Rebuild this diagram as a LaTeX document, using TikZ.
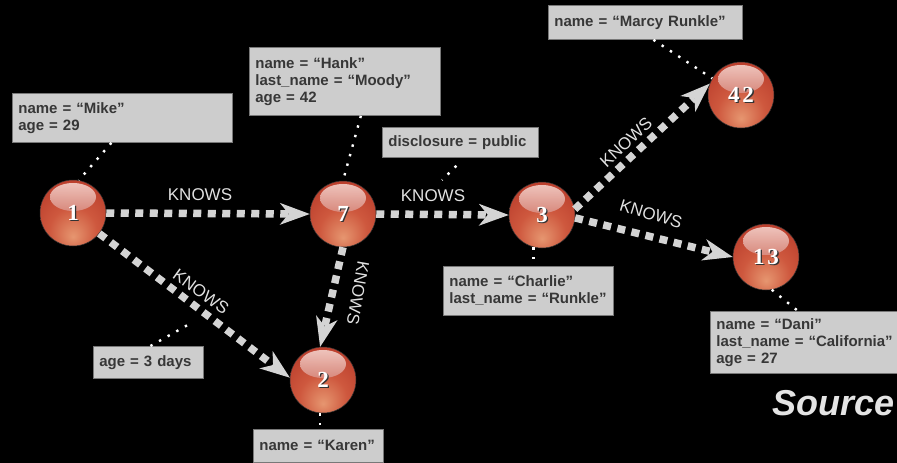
\documentclass[tikz,border=0pt]{standalone}
\usepackage{fontspec}
\setmainfont{Liberation Sans}
\newfontfamily\ballserif{Liberation Serif}
\usetikzlibrary{arrows.meta,calc}

\definecolor{boxfill}{RGB}{205,205,205}
\definecolor{boxdraw}{RGB}{120,120,120}
\definecolor{boxtext}{RGB}{55,55,55}
\definecolor{edgecol}{RGB}{212,212,212}
\definecolor{labelcol}{RGB}{225,225,225}
\definecolor{srccol}{RGB}{228,228,228}
\definecolor{ballA}{RGB}{230,150,112}
\definecolor{ballB}{RGB}{206,88,62}
\definecolor{ballC}{RGB}{182,56,40}
\definecolor{ballD}{RGB}{138,30,22}
\definecolor{gloss}{RGB}{250,225,220}

% glossy sphere: light glow below the centre, dark rim
\pgfdeclareradialshading{ballshade}{\pgfpoint{0bp}{-18bp}}{%
  color(0bp)=(ballA); color(18bp)=(ballB); color(40bp)=(ballC);
  color(62bp)=(ballD); color(80bp)=(ballD)}

\newcommand{\boxfont}{\bfseries\fontsize{15pt}{17pt}\selectfont}
\newcommand{\lblfont}{\fontsize{17pt}{17pt}\selectfont}
\newcommand{\numfont}{\ballserif\bfseries\fontsize{23pt}{23pt}\selectfont}

\begin{document}
\begin{tikzpicture}[x=1pt,y=1pt,
  ball/.style={circle, minimum size=66pt, inner sep=0pt, draw=black!80,
    line width=0.5pt, shading=ballshade, text=white, font=\numfont,
    path picture={
      \shade[top color=gloss, bottom color=ballC, opacity=0.85]
        ([yshift=16pt]path picture bounding box.center) ellipse (23pt and 14pt);
      \node[text=black!80, font=\numfont]
        at ([xshift=1.3pt,yshift=-1.3pt]path picture bounding box.center) {#1};
    }},
  infobox/.style={draw=boxdraw, fill=boxfill, line width=0.8pt, text=boxtext,
    font=\boxfont, align=left, anchor=north west, inner xsep=6pt, inner ysep=0pt,
    execute at begin node={\hyphenpenalty=10000\hbadness=10000}},
  edge/.style={draw=edgecol, line width=7.5pt, dash pattern=on 8pt off 6.5pt,
    -{Stealth[length=30pt, width=22pt, inset=9pt, line width=0pt, fill=edgecol]}},
  leader/.style={draw=white, line width=2.4pt, dash pattern=on 2.4pt off 7.5pt},
  lbl/.style={text=labelcol, font=\lblfont, inner sep=1pt},
]
\useasboundingbox (0,0) rectangle (897,-463);
\clip (0,0) rectangle (897,-463);
\fill[black] (0,0) rectangle (897,-463);

% property boxes
\node[infobox, text width=208pt, minimum height=49pt] (mike) at (12,-93)
  {name = “Mike”\\age = 29};
\node[infobox, text width=179pt, minimum height=68pt] (hank) at (249,-47)
  {name = “Hank”\\last\_name = “Moody”\\age = 42};
\node[infobox, text width=144pt, minimum height=30pt] (disc) at (382,-127)
  {disclosure = public};
\node[infobox, text width=162pt, inner xsep=4pt, minimum height=49pt] (charlie) at (443,-266)
  {\hspace*{2pt}name = “Charlie”\\\hspace*{2pt}last\_name = “Runkle”};
\node[infobox, text width=182pt, minimum height=34pt] (marcy) at (548,-5)
  {name = “Marcy Runkle”};
\node[infobox, text width=200pt, minimum height=62pt] (dani) at (710,-311)
  {name = “Dani”\\last\_name = “California”\\age = 27};
\node[infobox, text width=98pt, minimum height=32pt] (age) at (93,-346)
  {age = 3 days};
\node[infobox, text width=118pt, minimum height=33pt] (karen) at (253,-429)
  {name = “Karen”};

% graph nodes
\node[ball=1] (n1) at (73,-213) {1};
\node[ball=7] (n7) at (343,-214) {7};
\node[ball=3] (n3) at (542,-215) {3};
\node[ball={4\kern3pt 2}] (n42) at (741,-95) {4\kern3pt 2};
\node[ball={1\kern3pt 3}] (n13) at (766,-257) {1\kern3pt 3};
\node[ball=2] (n2) at (323,-380) {2};

% relationships
\draw[edge] (n1.east) -- (n7.west);
\draw[edge] (n7.east) -- (n3.west);
\draw[edge] (n1.-38) -- (n2.176);
\draw[edge] (n7.south) -- (n2.95);
\draw[edge] (n3.10) -- (n42.160);
\draw[edge] (n3.-5) -- (n13.west);

% relationship labels
\node[lbl] (k17) at (200,-195) {KNOWS};
\node[lbl] (k73) at (433,-196) {KNOWS};
\node[lbl, rotate=-36] (k12) at (201,-292) {KNOWS};
\node[lbl, rotate=-100] (k72) at (358,-293) {KNOWS};
\node[lbl, rotate=43] (k342) at (626,-142) {KNOWS};
\node[lbl, rotate=-17] (k313) at (651,-214) {KNOWS};

% leaders from properties to their owners
\coordinate (disctip) at (442,-180);
\coordinate (agetip) at (193,-322);
\draw[leader] ([xshift=-11pt]mike.south) -- (n1.80);
\draw[leader] ([xshift=16pt]hank.south) -- (n7.north);
\draw[leader] ([xshift=-4pt,yshift=-8pt]disc.south) -- (disctip);
\draw[leader] (n3.-105) -- (n3.-105 |- charlie.north);
\draw[leader] ([xshift=8pt]marcy.south) -- (n42.150);
\draw[leader] (n13.-80) -- ([xshift=88pt]dani.north west);
\draw[leader] ([xshift=2pt]age.north) -- (agetip);
\draw[leader] (n2.-95) -- (n2.-95 |- karen.north);

% caption
\node[anchor=base west, inner sep=0pt, text=srccol,
  font=\bfseries\itshape\fontsize{36pt}{36pt}\selectfont] (src) at (772,-415) {Source};
\end{tikzpicture}
\end{document}
